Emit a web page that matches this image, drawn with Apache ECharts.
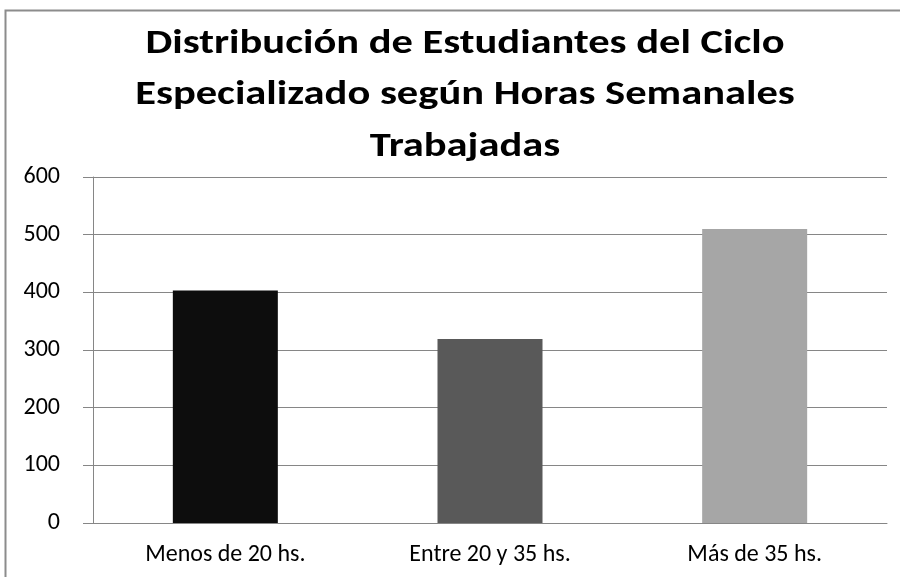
<!DOCTYPE html>
<html><head><meta charset="utf-8">
<script src="https://cdn.jsdelivr.net/npm/echarts@6/dist/echarts.min.js"></script>
<style>html,body{margin:0;padding:0;background:#fff}#c{width:900px;height:577px}</style>
</head><body><div id="c"></div>
<script>
const categories = ["Menos de 20 hs.", "Entre 20 y 35 hs.", "Más de 35 hs."];
const values = [403, 319, 510];
const barColors = ["#0d0d0d", "#595959", "#a6a6a6"];
const titleText = "Distribución de Estudiantes del Ciclo\nEspecializado según Horas Semanales\nTrabajadas";
const FONT = "Carlito, 'Liberation Sans Narrow', 'Open Sans', sans-serif";

const chart = echarts.init(document.getElementById('c'), null, {renderer: 'canvas'});
chart.setOption({
  animation: false,
  backgroundColor: '#fff',
  graphic: [{
    type: 'rect', silent: true,
    shape: {x: 5.5, y: 10.5, width: 1000, height: 1000},
    style: {fill: 'none', stroke: '#8c8c8c', lineWidth: 2}
  }, {
    type: 'text', silent: true,
    x: 465, y: 18, scaleX: 1.215, scaleY: 1,
    style: {
      text: titleText, x: 0, y: 0, align: 'center', verticalAlign: 'top',
      font: "bold 35px " + FONT, lineHeight: 51.5, fill: '#000'
    }
  }],
  grid: {left: 93, right: 13, top: 177, bottom: 54, containLabel: false},
  xAxis: {
    type: 'category', data: categories,
    axisLine: {show: true, lineStyle: {color: '#868686', width: 1}},
    axisTick: {show: false},
    axisLabel: {fontFamily: FONT, fontSize: 24, color: '#000', margin: 20}
  },
  yAxis: {
    type: 'value', min: 0, max: 600, interval: 100,
    axisLine: {show: true, lineStyle: {color: '#868686', width: 1}},
    axisTick: {show: true, length: 10, lineStyle: {color: '#868686'}},
    splitLine: {show: true, lineStyle: {color: '#868686', width: 1}},
    axisLabel: {fontFamily: FONT, fontSize: 24, color: '#000', margin: 33}
  },
  series: [{
    type: 'bar', barWidth: 105,
    data: values.map((v, i) => ({value: v, itemStyle: {color: barColors[i]}}))
  }]
});
</script></body></html>
